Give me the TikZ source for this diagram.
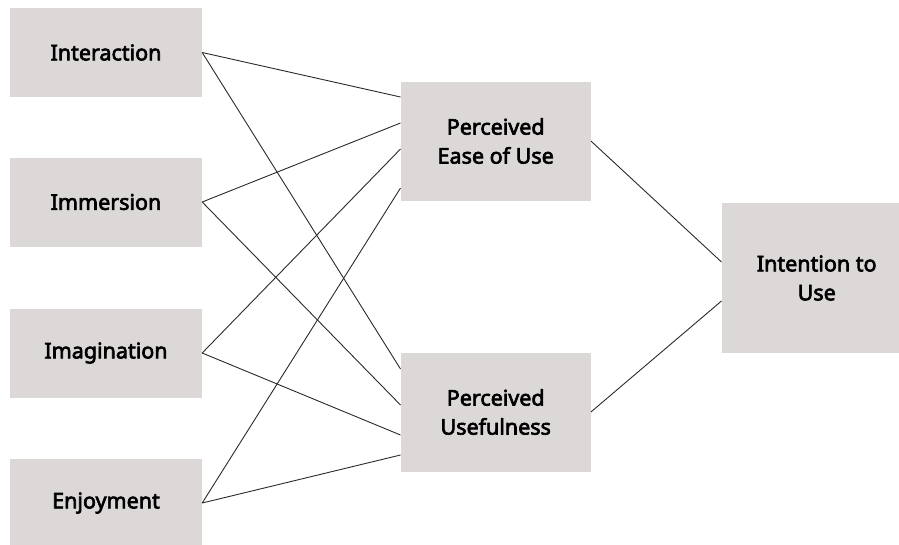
\documentclass[tikz,border=0pt]{standalone}
\usepackage{fontspec}
\setmainfont{Noto Sans}
\newfontface\medface{Noto Sans}[RawFeature={embolden=3}]
\usetikzlibrary{calc}
\definecolor{boxgray}{HTML}{DBD8D7}
\definecolor{linegray}{HTML}{2A2A2A}
\begin{document}
\begin{tikzpicture}[x=1pt,y=-1pt,
  box/.style={fill=boxgray, draw=none, inner sep=0pt, align=center,
    font=\medface\fontsize{21.5}{29}\selectfont},
  leftbox/.style={box, minimum width=192pt, minimum height=89pt},
  midbox/.style={box, minimum width=190pt, minimum height=119pt},
  conn/.style={draw=linegray, line width=0.9pt}]
\useasboundingbox (0,0) rectangle (899,544);
\begin{scope}
\clip (0,0) rectangle (899,544);
\node[leftbox] (int) at (106,52.5) {Interaction};
\node[leftbox] (imm) at (106,202) {Immersion};
\node[leftbox] (ima) at (106,353) {Imagination};
\node[leftbox] (enj) at (106,503) {Enjoyment};
\node[midbox] (peu) at (495.7,141) {Perceived\\Ease of Use};
\node[midbox] (pu) at (495.7,412) {Perceived\\Usefulness};
\node[box, minimum width=190pt, minimum height=150pt] (itu) at (816.7,278) {Intention to\\Use};
\end{scope}
\coordinate (peu1) at ($(peu.west)+(0,-44)$);
\coordinate (peu2) at ($(peu.west)+(0,-18)$);
\coordinate (peu3) at ($(peu.west)+(0,8)$);
\coordinate (peu4) at ($(peu.west)+(0,47)$);
\coordinate (pu1) at ($(pu.west)+(0,-43)$);
\coordinate (pu2) at ($(pu.west)+(0,-7)$);
\coordinate (pu3) at ($(pu.west)+(0,23)$);
\coordinate (pu4) at ($(pu.west)+(0,43)$);
\coordinate (itu1) at ($(itu.west)+(0,-16)$);
\coordinate (itu2) at ($(itu.west)+(0,23)$);
\draw[conn] (int.east) -- (peu1);
\draw[conn] (int.east) -- (pu1);
\draw[conn] (imm.east) -- (peu2);
\draw[conn] (imm.east) -- (pu2);
\draw[conn] (ima.east) -- (peu3);
\draw[conn] (ima.east) -- (pu3);
\draw[conn] (enj.east) -- (peu4);
\draw[conn] (enj.east) -- (pu4);
\draw[conn] (peu.east) -- (itu1);
\draw[conn] (pu.east) -- (itu2);
\end{tikzpicture}
\end{document}
